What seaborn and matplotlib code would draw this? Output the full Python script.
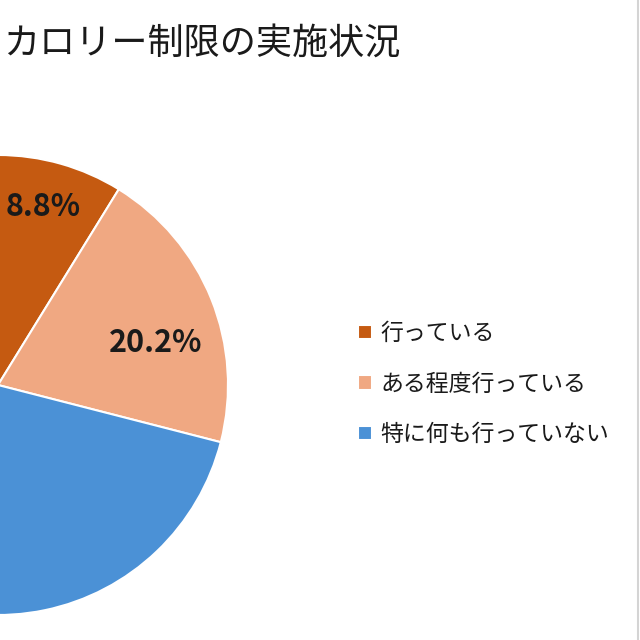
import numpy as np
import matplotlib
matplotlib.use("Agg")
import matplotlib.pyplot as plt
from matplotlib.lines import Line2D
import seaborn as sns

# Data
categories = ["行っている", "ある程度行っている", "特に何も行っていない"]
shares = [8.8, 20.2, 71.0]
pct_labels = ["8.8%", "20.2%"]  # the 71.0% label lies outside the cropped view
colors = ["#C55A11", "#F0A882", "#4B91D6"]
title = "カロリー制限の実施状況"

sns.set_theme(style="white")
plt.rcParams["font.family"] = ["Noto Sans CJK JP", "DejaVu Sans"]

fig = plt.figure(figsize=(6.4, 6.4), dpi=100, facecolor="white")

# pie centre sits on the left edge of the picture (cropped chart)
cx, cy, r = -2 / 640, 1 - 385 / 640, 230 / 640
ax = fig.add_axes([cx - r, cy - r, 2 * r, 2 * r])

wedges, _ = ax.pie(shares, colors=colors, startangle=90, counterclock=False,
                   wedgeprops=dict(edgecolor="white", linewidth=1.5))
ax.set_xlim(-1, 1)
ax.set_ylim(-1, 1)
ax.set_aspect("equal")
ax.axis("off")

# percentage labels inside the wedges
label_radius = [0.80, 0.71]
label_shift = [1.5, -7]
for w, txt, rad, shift in zip(wedges, pct_labels, label_radius, label_shift):
    mid = np.deg2rad((w.theta1 + w.theta2) / 2 + shift)
    ax.text(rad * np.cos(mid), rad * np.sin(mid), txt, ha="center", va="center",
            fontsize=22, fontweight="bold", color="#1a1a1a")

fig.text(400 / 640, 1 - 44 / 640, title, ha="right", va="center",
         fontsize=26, color="#1a1a1a")

fig.legend(wedges, categories, loc="center left",
           bbox_to_anchor=(347 / 640, 1 - 384 / 640), frameon=False,
           fontsize=16.5, handlelength=0.6, handleheight=0.6,
           handletextpad=0.35, labelspacing=1.2, borderpad=0,
           labelcolor="#1a1a1a")

# thin grey border on the right edge
fig.add_artist(Line2D([638 / 640, 638 / 640], [0, 1], transform=fig.transFigure,
                      color="#d4d4d4", linewidth=1.5))

fig.savefig("out.png", dpi=100, facecolor="white")
